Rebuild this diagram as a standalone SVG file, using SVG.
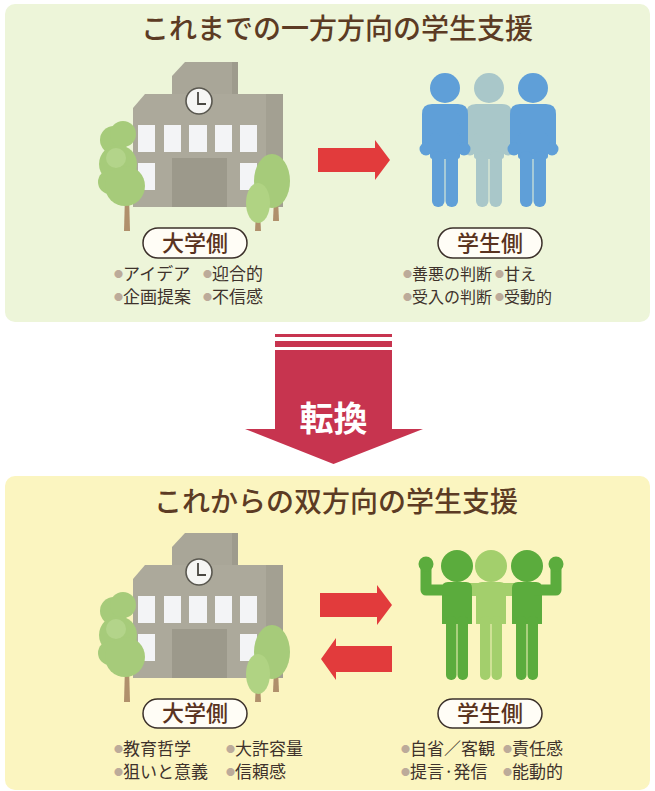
<svg xmlns="http://www.w3.org/2000/svg" xmlns:xlink="http://www.w3.org/1999/xlink" width="655" height="791" viewBox="0 0 655 791">
  <style>
    .title { font-family: "Noto Sans CJK JP", "Noto Sans", sans-serif; font-size: 28px; font-weight: 500; fill: #5c3b24; text-anchor: middle; }
    .pill { fill: #fffdf6; stroke: #3b302a; stroke-width: 1.5; }
    .pilltext { font-family: "Noto Sans CJK JP", "Noto Sans", sans-serif; font-size: 22px; font-weight: 500; fill: #5a3320; text-anchor: middle; }
    .item { font-family: "Noto Sans CJK JP", "Noto Sans", sans-serif; font-size: 17px; fill: #3e322c; }
    .item-s { font-size: 16px; }
    .dot { font-size: 9px; fill: #bcab9a; }
    .win { fill: #f3f4f6; }
    .redarrow { fill: #e23b3c; }
    .blue { fill: #5f9fd8; }
    .blue-faint { fill: #a9c7c9; }
    .green { fill: #5bac3d; }
    .green-light { fill: #a3cf6c; }
  </style>
  <defs>
    <!-- school building with its trees, drawn for the upper panel -->
    <g id="school">
      <!-- tower -->
      <path d="M172,76 L185,62 L238,62 L238,96 L172,96 Z" fill="#a9a698"/>
      <path d="M232,62 L238,62 L238,96 L232,96 Z" fill="#9e9b8d"/>
      <!-- main body -->
      <path d="M133,108 L145,94 L283,94 L283,207 L133,207 Z" fill="#aca99b"/>
      <path d="M266,94 L283,94 L283,207 L266,207 Z" fill="#a3a092"/>
      <!-- clock -->
      <circle cx="199" cy="101" r="13" fill="#f6f6f4" stroke="#5a5850" stroke-width="1.6"/>
      <path d="M198,92 L198,104 L206,104" fill="none" stroke="#4a4842" stroke-width="1.8"/>
      <!-- windows -->
      <rect class="win" x="138" y="125" width="17" height="27"/>
      <rect class="win" x="164" y="125" width="17" height="27"/>
      <rect class="win" x="189" y="125" width="18" height="27"/>
      <rect class="win" x="215" y="125" width="17" height="27"/>
      <rect class="win" x="240" y="125" width="17" height="27"/>
      <rect class="win" x="138" y="163" width="17" height="27"/>
      <rect class="win" x="240" y="163" width="17" height="27"/>
      <!-- door -->
      <rect x="172" y="158" width="55" height="49" fill="#9c998b"/>
      <!-- left tree -->
      <path d="M125,195 L129,195 L130,231 L124,231 Z" fill="#b0906c"/>
      <g fill="#a6cb7a">
        <circle cx="114" cy="140" r="14"/>
        <circle cx="123" cy="134" r="13"/>
        <circle cx="118" cy="164" r="19"/>
        <circle cx="110" cy="182" r="12"/>
        <circle cx="125" cy="186" r="20"/>
      </g>
      <circle cx="116" cy="158" r="10" fill="#b3d48a"/>
      <!-- right trees -->
      <path d="M274,198 L278,198 L279,221 L273,221 Z" fill="#b0906c"/>
      <ellipse cx="272" cy="181" rx="18" ry="27" fill="#a6cb7a"/>
      <path d="M256,212 L260,212 L261,231 L255,231 Z" fill="#b0906c"/>
      <ellipse cx="258" cy="203" rx="12" ry="20" fill="#b0d383"/>
    </g>
    <!-- standing figure, arms down -->
    <g id="stand">
      <circle cx="0" cy="15" r="15"/>
      <path d="M-13,31 L13,31 Q23,31 23,41 L23,76 L-23,76 L-23,41 Q-23,31 -13,31 Z"/>
      <circle cx="-19" cy="76" r="6.5"/>
      <circle cx="19" cy="76" r="6.5"/>
      <rect x="-15" y="60" width="30" height="26" rx="3"/>
      <rect x="-13" y="78" width="12.5" height="56" rx="6"/>
      <rect x="0.5" y="78" width="12.5" height="56" rx="6"/>
    </g>
    <!-- figure body for the arm-in-arm group -->
    <g id="cheer">
      <circle cx="0" cy="16" r="16"/>
      <path d="M-9,32 L9,32 Q15,32 15,38 L15,74 L-15,74 L-15,38 Q-15,32 -9,32 Z"/>
      <rect x="-11" y="66" width="10.5" height="64" rx="5"/>
      <rect x="0.5" y="66" width="10.5" height="64" rx="5"/>
    </g>
  </defs>

  <!-- panels -->
  <rect x="5" y="4" width="645" height="318" rx="10" fill="#edf5d9"/>
  <rect x="5" y="476" width="645" height="314" rx="10" fill="#fbf5c0"/>

  <text class="title" x="337" y="39">これまでの一方方向の学生支援</text>
  <text class="title" x="336" y="512">これからの双方向の学生支援</text>

  <!-- upper panel: university -->
  <g id="univ-top">
    <use xlink:href="#school"/>
    <rect class="pill" x="143" y="228" width="104" height="30" rx="15"/>
    <text class="pilltext" x="195" y="251">大学側</text>
    <text class="item" x="114" y="280"><tspan class="dot" dy="-3">●</tspan><tspan dy="3">アイデア</tspan></text>
    <text class="item" x="203" y="280"><tspan class="dot" dy="-3">●</tspan><tspan dy="3">迎合的</tspan></text>
    <text class="item" x="114" y="303"><tspan class="dot" dy="-3">●</tspan><tspan dy="3">企画提案</tspan></text>
    <text class="item" x="203" y="303"><tspan class="dot" dy="-3">●</tspan><tspan dy="3">不信感</tspan></text>
  </g>

  <!-- upper panel: students -->
  <g id="students-top">
    <use xlink:href="#stand" class="blue-faint" transform="translate(489,73)"/>
    <use xlink:href="#stand" class="blue" transform="translate(445,73)"/>
    <use xlink:href="#stand" class="blue" transform="translate(533,73)"/>
    <rect class="pill" x="438" y="228" width="104" height="30" rx="15"/>
    <text class="pilltext" x="490" y="251">学生側</text>
    <text class="item item-s" x="403" y="280"><tspan class="dot" dy="-3">●</tspan><tspan dy="3">善悪の判断</tspan></text>
    <text class="item item-s" x="495" y="280"><tspan class="dot" dy="-3">●</tspan><tspan dy="3">甘え</tspan></text>
    <text class="item item-s" x="403" y="303"><tspan class="dot" dy="-3">●</tspan><tspan dy="3">受入の判断</tspan></text>
    <text class="item item-s" x="495" y="303"><tspan class="dot" dy="-3">●</tspan><tspan dy="3">受動的</tspan></text>
  </g>

  <!-- shift marker between the panels -->
  <g id="shift">
    <rect x="275" y="334" width="117" height="3" fill="#c7344f"/>
    <rect x="275" y="341" width="117" height="6" fill="#c7344f"/>
    <path d="M275,350 L392,350 L392,429 L423,429 L333.5,464 L245,429 L275,429 Z" fill="#c7344f"/>
    <text x="333.5" y="431" font-family="Noto Sans CJK JP, Noto Sans, sans-serif" font-size="34" font-weight="700" fill="#ffffff" text-anchor="middle">転換</text>
  </g>

  <!-- lower panel: university -->
  <g id="univ-bottom">
    <use xlink:href="#school" transform="translate(0,471)"/>
    <rect class="pill" x="143" y="699" width="104" height="29" rx="14.5"/>
    <text class="pilltext" x="195" y="721">大学側</text>
    <text class="item" x="114" y="755"><tspan class="dot" dy="-3">●</tspan><tspan dy="3">教育哲学</tspan></text>
    <text class="item" x="226" y="755"><tspan class="dot" dy="-3">●</tspan><tspan dy="3">大許容量</tspan></text>
    <text class="item" x="114" y="778"><tspan class="dot" dy="-3">●</tspan><tspan dy="3">狙いと意義</tspan></text>
    <text class="item" x="226" y="778"><tspan class="dot" dy="-3">●</tspan><tspan dy="3">信頼感</tspan></text>
  </g>

  <!-- lower panel: students arm in arm -->
  <g id="students-bottom">
    <rect class="green-light" x="457" y="583" width="70" height="13" rx="5"/>
    <use xlink:href="#cheer" class="green-light" transform="translate(491,550)"/>
    <g class="green">
      <use xlink:href="#cheer" transform="translate(457,550)"/>
      <use xlink:href="#cheer" transform="translate(527,550)"/>
    </g>
    <path d="M450,590 L426,590 L426,566" fill="none" stroke="#5bac3d" stroke-width="11" stroke-linejoin="round"/>
    <circle class="green" cx="426" cy="564" r="7.5"/>
    <path d="M534,590 L556,590 L556,566" fill="none" stroke="#5bac3d" stroke-width="11" stroke-linejoin="round"/>
    <circle class="green" cx="556" cy="564" r="7.5"/>
    <rect class="pill" x="438" y="699" width="104" height="29" rx="14.5"/>
    <text class="pilltext" x="490" y="721">学生側</text>
    <text class="item" x="401" y="755"><tspan class="dot" dy="-3">●</tspan><tspan dy="3">自省／客観</tspan></text>
    <text class="item" x="503" y="755"><tspan class="dot" dy="-3">●</tspan><tspan dy="3">責任感</tspan></text>
    <text class="item" x="401" y="778"><tspan class="dot" dy="-3">●</tspan><tspan dy="3">提言·発信</tspan></text>
    <text class="item" x="503" y="778"><tspan class="dot" dy="-3">●</tspan><tspan dy="3">能動的</tspan></text>
  </g>

  <!-- connectors -->
  <g id="connectors">
    <path class="redarrow" d="M318,148 L375,148 L375,140 L390,160 L375,180 L375,172 L318,172 Z"/>
    <path class="redarrow" d="M320,593 L377,593 L377,585 L392,605 L377,625 L377,617 L320,617 Z"/>
    <path class="redarrow" d="M392,646 L336,646 L336,638 L321,659 L336,680 L336,672 L392,672 Z"/>
  </g>
</svg>
